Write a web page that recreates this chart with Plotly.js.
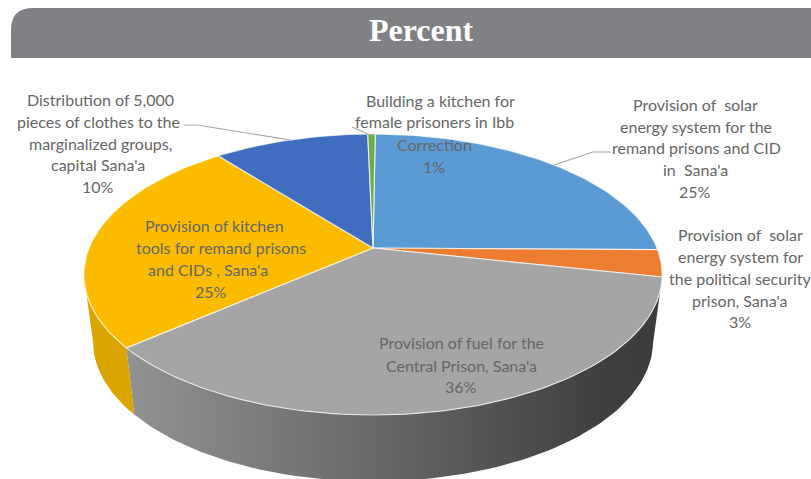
<!DOCTYPE html>
<html>
<head>
<meta charset="utf-8">
<script src="https://cdn.plot.ly/plotly-3.0.1.min.js"></script>
<style>html,body{margin:0;padding:0;background:#fff}#chart{width:811px;height:479px}</style>
</head>
<body>
<div id="chart"></div>
<script>
// Data (percent share, clockwise from the top)
const sliceNames = [
  "Provision of solar energy system for the remand prisons and CID in Sana'a",
  "Provision of solar energy system for the political security prison, Sana'a",
  "Provision of fuel for the Central Prison, Sana'a",
  "Provision of kitchen tools for remand prisons and CIDs, Sana'a",
  "Distribution of 5,000 pieces of clothes to the marginalized groups, capital Sana'a",
  "Building a kitchen for female prisoners in Ibb Correction"
];
const sliceValues = [25.05, 3.1, 35.5, 25.45, 10.4, 0.5];
const sliceColors = ["#5b9bd5", "#ed7d31", "#a5a5a5", "#fbbc00", "#406dbf", "#70ad47"];
const startShare = 0.15;

// Label lines: [text, x, y]
const labelLines = [
  ["Distribution of 5,000", 100, 99.5], ["pieces of clothes to the", 98, 121.5], ["marginalized groups,", 100, 143.5], ["capital Sana'a", 98, 164.5], ["10%", 98, 186.5],
  ["Building a kitchen for", 440, 100.5], ["female prisoners in Ibb", 434, 121.5], ["Correction", 434, 144.5], ["1%", 434, 166.5],
  ["Provision of  solar", 695, 104.5], ["energy system for the", 696, 126.5], ["remand prisons and CID", 696, 147.5], ["in  Sana'a", 695, 169.5], ["25%", 695, 191.5],
  ["Provision of  solar", 740, 234.5], ["energy system for", 740, 256.5], ["the political security", 740, 278.5], ["prison, Sana'a", 740, 300.5], ["3%", 740, 321.5],
  ["Provision of kitchen", 214, 225.5], ["tools for remand prisons", 221, 247.5], ["and CIDs , Sana'a", 208, 269.5], ["25%", 211, 291.5],
  ["Provision of fuel for the", 461, 342.5], ["Central Prison, Sana'a", 461, 365.5], ["36%", 461, 386.5]
];
const leaderXs = [[184, 197, 290], [611, 593, 554], [352, 370]];
const leaderYs = [[125, 125, 140], [152, 152, 165], [127, 135]];

// Perspective view of the pie disc
const view = {cx: 373, k: 0.1886};
const topDisc = {rx: 284, ry: 135.5, cy: 248};
const baseDisc = {rx: 275, ry: 135, cy: 315};

function project(disc, share) {
  const a = share / 100 * 2 * Math.PI;
  const c = Math.sin(a), s = -Math.cos(a);
  const d = 1 - view.k * s;
  return [view.cx + disc.rx * c / d, disc.cy + disc.ry * s / d];
}
function arc(disc, from, to) {
  const pts = [], n = Math.max(2, Math.ceil(Math.abs(to - from) * 3));
  for (let i = 0; i <= n; i++) pts.push(project(disc, from + (to - from) * i / n));
  return pts;
}
function polyTrace(pts, extra) {
  return Object.assign({
    type: "scatter", mode: "lines", fill: "toself", hoverinfo: "skip", showlegend: false,
    x: pts.map(p => p[0]), y: pts.map(p => p[1])
  }, extra);
}

const bounds = [startShare];
sliceValues.forEach(v => bounds.push(bounds[bounds.length - 1] + v));
const silhouette = (270 - Math.asin(view.k) * 180 / Math.PI) / 3.6;

const traces = [];
// Side walls: grey and yellow slices are the ones facing the viewer
traces.push(polyTrace(
  arc(topDisc, bounds[2], bounds[3]).concat(arc(baseDisc, bounds[3], bounds[2])),
  {name: "wall " + sliceNames[2], line: {width: 0, color: "rgba(0,0,0,0)"},
   fillgradient: {type: "horizontal", colorscale: [[0, "#929292"], [0.45, "#6a6a6a"], [0.88, "#404040"], [1, "#3c3c3c"]]}}
));
traces.push(polyTrace(
  arc(topDisc, bounds[3], silhouette).concat(arc(baseDisc, silhouette, bounds[3])),
  {name: "wall " + sliceNames[3], line: {width: 0, color: "rgba(0,0,0,0)"}, fillcolor: "#dba500"}
));
// Top faces
sliceValues.forEach((v, i) => {
  const pts = [[view.cx, topDisc.cy]].concat(arc(topDisc, bounds[i], bounds[i + 1]));
  pts.push([view.cx, topDisc.cy]);
  traces.push(polyTrace(pts, {
    name: sliceNames[i], fillcolor: sliceColors[i],
    line: {width: 1.2, color: "rgba(255,255,255,0.7)"}
  }));
});
// Leader lines
leaderXs.forEach((xs, i) => traces.push({
  type: "scatter", mode: "lines", x: xs, y: leaderYs[i], hoverinfo: "skip", showlegend: false,
  line: {color: "#a6a6a6", width: 1.2}
}));

const annotations = labelLines.map(l => ({
  text: l[0], x: l[1], y: l[2], xref: "x", yref: "y", showarrow: false,
  xanchor: "center", yanchor: "middle",
  font: {family: "Lato, 'Open Sans', sans-serif", size: 16, color: "#666666"}
}));

const layout = {
  width: 811, height: 479, margin: {l: 0, r: 0, t: 0, b: 0},
  paper_bgcolor: "#ffffff", plot_bgcolor: "#ffffff", showlegend: false,
  title: {text: "<b>Percent</b>", x: 421 / 811, y: 1 - 30 / 479, xanchor: "center", yanchor: "middle",
          font: {family: "'Liberation Serif', serif", size: 32, color: "#ffffff"}},
  xaxis: {range: [0, 811], visible: false, fixedrange: true},
  yaxis: {range: [479, 0], visible: false, fixedrange: true},
  shapes: [{type: "path", layer: "below", xref: "x", yref: "y",
    path: "M 11 58 L 11 30 Q 11 8 33 8 L 811 8 L 811 58 Z",
    fillcolor: "#808184", line: {width: 0}}],
  annotations: annotations
};
Plotly.newPlot("chart", traces, layout, {displayModeBar: false, staticPlot: true});
</script>
</body>
</html>
